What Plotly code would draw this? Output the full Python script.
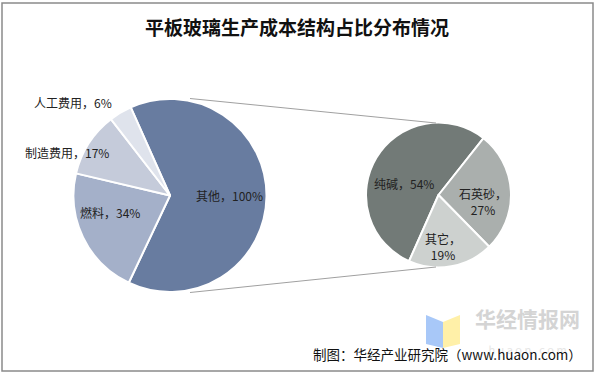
import plotly.graph_objects as go

W, H = 595, 375

# ---- data ----
main_labels = ['其他', '燃料', '制造费用', '人工费用']
main_values = [100, 34, 17, 6]
main_colors = ['#687CA0', '#A4B0C9', '#C5CBDA', '#DFE3EC']

sub_labels = ['纯碱', '石英砂', '其它']
sub_values = [54, 27, 19]
sub_colors = ['#727A77', '#AAAFAD', '#CDD1CF']

title_text = '平板玻璃生产成本结构占比分布情况'
source_text = '制图：华经产业研究院（www.huaon.com）'


def px(x):
    return x / W


def py(y):
    return 1 - y / H


fig = go.Figure()

fig.add_trace(go.Pie(
    labels=main_labels, values=main_values, sort=False, direction='clockwise',
    rotation=-24, textinfo='none', hoverinfo='label+value',
    marker=dict(colors=main_colors, line=dict(color='white', width=2)),
    domain=dict(x=[px(73.5), px(266.5)], y=[py(292), py(99)]),
    showlegend=False,
))

fig.add_trace(go.Pie(
    labels=sub_labels, values=sub_values, sort=False, direction='clockwise',
    rotation=204, textinfo='none', hoverinfo='label+value',
    marker=dict(colors=sub_colors, line=dict(color='white', width=2)),
    domain=dict(x=[px(366), px(511)], y=[py(267.5), py(122.5)]),
    showlegend=False,
))

font_lbl = dict(family='Noto Sans CJK SC', size=12, color='#222222')
annotations = []

# main pie labels
main_pos = {'其他': (229, 195), '燃料': (110, 213), '制造费用': (67, 152), '人工费用': (73, 102)}
for lab, val in zip(main_labels, main_values):
    x, y = main_pos[lab]
    annotations.append(dict(text=f'{lab}，{val}%', x=px(x), y=py(y), xref='paper', yref='paper',
                            showarrow=False, font=font_lbl, xanchor='center', yanchor='middle'))

# sub pie labels
sub_pos = {'纯碱': (404, 183), '石英砂': (483, 201), '其它': (443, 246)}
for lab, val in zip(sub_labels, sub_values):
    x, y = sub_pos[lab]
    if lab == '纯碱':
        txt = f'{lab}，{val}%'
    else:
        txt = f'{lab}，<br>{val}%'
    annotations.append(dict(text=txt, x=px(x), y=py(y), xref='paper', yref='paper',
                            showarrow=False, font=font_lbl, xanchor='center', yanchor='middle'))

# title
annotations.append(dict(text=f'<b>{title_text}</b>', x=px(297), y=py(27), xref='paper', yref='paper',
                        showarrow=False, font=dict(family='Noto Sans CJK SC', size=19, color='#111111'),
                        xanchor='center', yanchor='middle'))

# watermark (logo text + url in one block)
annotations.append(dict(
    text='<b>华经情报网</b><br><span style="font-size:11px;color:#E6E6E6">h u a o n . c o m</span>',
    x=px(527), y=py(330), xref='paper', yref='paper',
    showarrow=False, font=dict(family='Noto Sans CJK SC', size=21, color='#D4D4D4'),
    xanchor='center', yanchor='middle'))

# source
annotations.append(dict(text=source_text, x=px(584), y=py(354), xref='paper', yref='paper',
                        showarrow=False, font=dict(family='Noto Sans CJK SC', size=13.5, color='#111111'),
                        xanchor='right', yanchor='middle'))


def path(points):
    s = 'M ' + ' L '.join(f'{px(x)},{py(y)}' for x, y in points) + ' Z'
    return s


shapes = [
    # frame
    dict(type='rect', xref='paper', yref='paper', x0=px(2), y0=py(371), x1=px(593), y1=py(3),
         line=dict(color='#8A8A8A', width=1.5), fillcolor='rgba(0,0,0,0)'),
    # connector lines
    dict(type='line', xref='paper', yref='paper', x0=px(190), y0=py(98.5), x1=px(436), y1=py(123),
         line=dict(color='#A0A0A0', width=1)),
    dict(type='line', xref='paper', yref='paper', x0=px(190), y0=py(292.5), x1=px(436), y1=py(267),
         line=dict(color='#A0A0A0', width=1)),
    # watermark book icon
    dict(type='path', xref='paper', yref='paper', path=path([(426, 315), (443, 322), (443, 348), (426, 344)]),
         fillcolor='#A8C8F8', line=dict(width=0), layer='below'),
    dict(type='path', xref='paper', yref='paper', path=path([(443, 322), (460, 315), (460, 344), (443, 348)]),
         fillcolor='#FFF0A8', line=dict(width=0), layer='below'),
]

fig.update_layout(
    width=W, height=H,
    margin=dict(l=0, r=0, t=0, b=0),
    paper_bgcolor='white', plot_bgcolor='white',
    annotations=annotations, shapes=shapes,
)

fig.write_html('out.html', config={'displayModeBar': False},
               post_script="document.body.style.margin='0';document.body.style.overflow='hidden';")
